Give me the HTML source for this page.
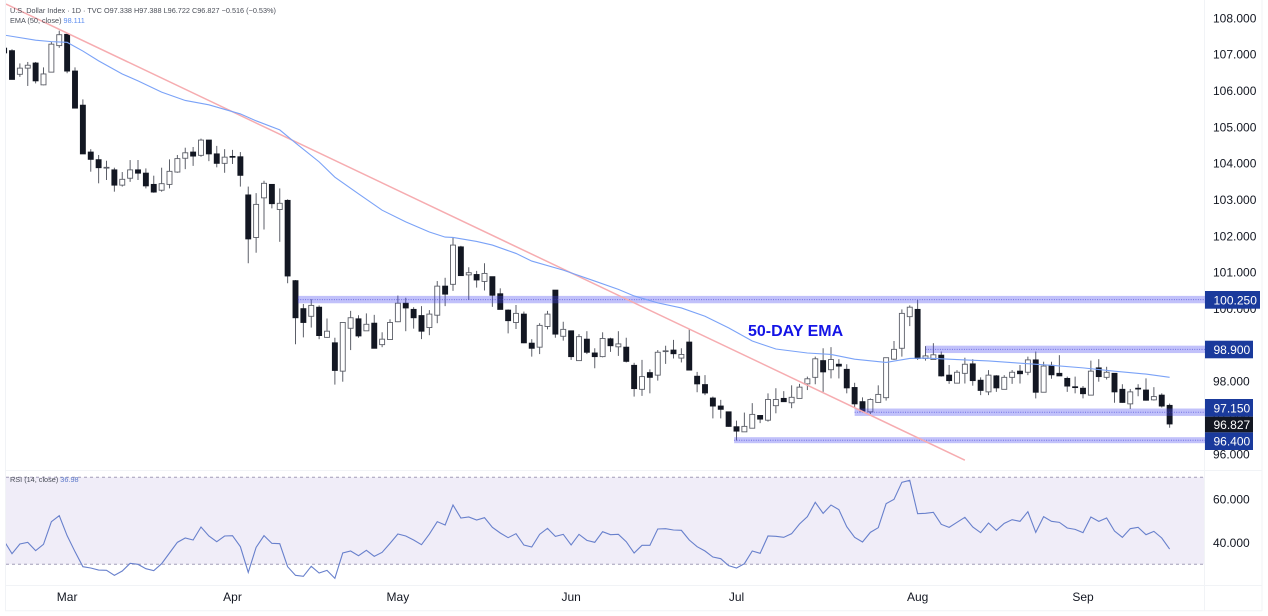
<!DOCTYPE html>
<html lang="en">
<head>
<meta charset="utf-8">
<title>U.S. Dollar Index Daily Chart</title>
<style>
html,body{margin:0;padding:0;background:#fff;width:1268px;height:616px;overflow:hidden}
svg{display:block;font-family:"Liberation Sans",sans-serif;filter:blur(0.35px)}
</style>
</head>
<body>
<svg id="chart" xmlns="http://www.w3.org/2000/svg" width="1268" height="616" viewBox="0 0 1268 616">
  <defs>
    <clipPath id="price-clip"><rect x="6" y="0" width="1199" height="470"></rect></clipPath>
    <clipPath id="rsi-clip"><rect x="6" y="471" width="1199" height="114"></rect></clipPath>
  </defs>
  <rect x="0" y="0" width="1268" height="616" fill="#ffffff"></rect>
  <rect x="6" y="477.3" width="1199" height="87" fill="#f0edf8"></rect>
  <line x1="6" x2="1205" y1="477.3" y2="477.3" stroke="#a29db8" stroke-width="1" stroke-dasharray="3 3"></line>
  <line x1="6" x2="1205" y1="564.3" y2="564.3" stroke="#a29db8" stroke-width="1" stroke-dasharray="3 3"></line>
  <g stroke="#f1f3f6" stroke-width="1" fill="none">
    <line x1="5.5" x2="5.5" y1="0" y2="611"></line>
    <line x1="1204.5" x2="1204.5" y1="0" y2="611"></line>
    <line x1="1262" x2="1262" y1="0" y2="611"></line>
    <line x1="5" x2="1262" y1="470.5" y2="470.5"></line>
    <line x1="5" x2="1262" y1="585.5" y2="585.5"></line>
    <line x1="5" x2="1262" y1="610.7" y2="610.7"></line>
  </g>
  <g id="candles" clip-path="url(#price-clip)"></g>
  <g id="levels"></g>
  <polyline id="trendline" fill="none" stroke="#f6acb0" stroke-width="1.5" clip-path="url(#price-clip)"></polyline>
  <polyline id="ema-line" fill="none" stroke="#7aa2f7" stroke-width="1.1" clip-path="url(#price-clip)"></polyline>
  <polyline id="rsi-line" fill="none" stroke="#6880cc" stroke-width="1.1" clip-path="url(#rsi-clip)"></polyline>
  <g id="price-axis"></g>
  <g id="rsi-axis"></g>
  <g id="time-axis"></g>
  <g id="level-labels"></g>
  <text x="748" y="336" font-size="16" font-weight="700" fill="#1414e6">50-DAY EMA</text>
  <text x="10" y="13" font-size="7.3" fill="#4a4e58">U.S. Dollar Index · 1D · TVC  O97.338  H97.388  L96.722  C96.827  −0.516 (−0.53%)</text>
  <text x="10" y="23" font-size="7.3" fill="#4a4e58">EMA (50, close) <tspan fill="#5b8cf0">98.111</tspan></text>
  <text x="10" y="482" font-size="7.3" fill="#4a4e58">RSI (14, close) <tspan fill="#5b78c9">36.98</tspan></text>
</svg>
<script>
const opens=[107.17,107.10,106.45,106.62,106.76,106.16,106.51,107.24,107.55,106.54,105.60,104.31,104.10,103.88,103.82,103.40,103.59,103.82,103.73,103.42,103.26,103.42,103.76,104.14,104.31,104.22,104.64,104.26,104.00,104.19,104.18,103.13,101.96,103.05,103.42,102.73,102.98,100.77,100.00,99.79,100.04,99.21,99.06,98.28,99.46,99.72,99.39,99.60,99.01,99.15,99.64,100.15,99.98,99.81,99.48,99.82,100.62,100.67,101.70,100.93,100.94,100.75,100.88,100.41,99.96,99.62,99.85,99.05,98.94,99.51,100.51,99.24,99.39,98.57,99.16,98.78,98.68,99.17,98.95,98.94,98.44,97.78,98.24,98.17,98.83,98.86,98.64,99.08,98.14,97.91,97.54,97.32,97.16,96.75,96.61,96.71,97.06,96.93,97.33,97.53,97.41,97.53,97.93,98.11,98.57,98.32,98.47,98.33,97.83,97.44,97.16,97.42,97.55,98.61,98.91,99.78,99.98,98.63,98.60,98.72,98.17,97.95,98.22,98.48,98.03,97.71,98.15,97.78,98.11,98.28,98.25,98.59,97.70,98.44,98.22,98.08,97.85,97.81,97.62,98.37,98.11,98.22,97.78,97.38,97.81,97.76,97.49,97.62,97.338];
const highs=[107.17,107.14,106.75,106.79,106.79,106.64,107.35,107.65,107.59,106.64,105.76,104.39,104.23,104.07,103.88,103.76,104.09,104.09,103.86,103.66,103.88,104.11,104.23,104.43,104.45,104.68,104.64,104.48,104.39,104.37,104.31,103.36,103.18,103.52,103.42,103.31,103.01,100.79,100.13,100.26,100.09,99.73,99.20,99.62,99.94,99.82,99.87,99.83,99.35,99.71,100.36,100.30,100.04,100.07,99.96,100.76,100.85,101.96,101.73,101.14,101.04,101.25,100.88,100.56,99.98,100.10,99.92,99.16,99.60,99.94,100.51,99.64,99.39,99.30,99.38,98.91,99.35,99.20,99.38,99.20,98.51,98.59,98.33,98.86,98.98,99.14,98.91,99.43,98.26,98.17,97.58,97.49,97.16,96.92,97.14,97.40,97.06,97.67,97.81,97.73,97.89,97.93,98.13,98.68,98.91,98.94,98.61,98.47,97.96,97.56,97.53,97.89,98.65,99.11,99.98,100.09,100.24,98.97,99.05,98.82,98.45,98.31,98.65,98.61,98.11,98.31,98.17,98.17,98.31,98.45,98.68,98.82,98.54,98.54,98.72,98.13,98.13,97.87,98.57,98.61,98.40,98.22,97.92,97.79,97.92,98.08,97.84,97.67,97.388];
const lows=[107.04,106.31,106.38,106.13,106.20,106.15,106.50,107.18,106.48,105.51,104.26,103.77,103.45,103.54,103.22,103.36,103.49,103.54,103.31,103.19,103.22,103.31,103.74,103.84,103.93,104.18,104.06,103.89,103.74,103.98,103.36,101.25,101.54,102.18,102.76,101.84,100.70,99.02,99.21,99.48,99.16,99.20,97.91,97.99,98.86,99.20,99.39,98.91,98.94,99.15,99.63,99.38,99.45,99.16,99.27,99.60,100.07,100.49,100.90,100.24,100.58,100.50,100.05,99.98,99.32,99.44,99.05,98.68,98.75,99.43,99.20,99.12,98.59,98.56,98.75,98.36,98.66,98.81,98.70,98.52,97.58,97.60,97.67,98.02,98.48,98.63,98.52,98.31,97.70,97.62,96.98,96.98,96.75,96.37,96.61,96.71,96.85,96.89,97.12,97.44,97.26,97.53,97.76,97.92,97.71,98.08,98.08,97.67,97.26,97.16,97.10,97.42,97.47,98.59,98.68,99.52,98.59,98.57,98.60,98.13,97.93,97.94,97.94,97.88,97.62,97.62,97.71,97.78,97.93,97.94,98.17,97.53,97.70,98.07,98.15,97.71,97.67,97.53,97.61,97.99,98.05,97.41,97.41,97.24,97.59,97.47,97.47,97.28,96.722];
const closes=[107.04,106.31,106.62,106.70,106.27,106.46,107.28,107.54,106.54,105.52,104.26,104.11,103.88,103.89,103.40,103.56,103.82,103.73,103.38,103.21,103.44,103.78,104.13,104.29,104.20,104.64,104.26,104.00,104.17,104.17,103.67,101.92,102.87,103.45,102.89,102.90,100.90,99.75,99.62,100.09,99.26,99.38,98.30,99.62,99.75,99.25,99.57,98.91,99.16,99.62,100.15,100.02,99.75,99.38,99.85,100.62,100.40,101.75,100.91,100.99,100.79,100.97,100.37,99.98,99.67,99.87,99.06,98.91,99.54,99.85,99.30,99.43,98.68,99.23,98.80,98.68,99.18,98.98,99.03,98.55,97.80,98.13,98.11,98.80,98.84,98.76,98.74,98.31,97.93,97.68,97.32,97.23,96.76,96.63,96.76,97.09,96.96,97.50,97.50,97.44,97.56,97.84,98.07,98.62,98.26,98.60,98.42,97.82,97.38,97.18,97.50,97.64,98.65,98.88,99.87,100.04,98.63,98.70,98.73,98.15,98.02,98.25,98.47,98.02,97.75,98.17,97.82,98.11,98.25,98.21,98.59,97.70,98.42,98.18,98.15,97.87,97.84,97.66,98.28,98.13,98.25,97.71,97.42,97.71,97.79,97.48,97.58,97.32,96.827];

const emaBars=[0,4,6,8,10,12,15,17,20,23,26,30,32,35,37,40,42,45,48,51,54,56,57,60,62,65,67,71,75,78,80,83,86,89,92,95,98,102,105,108,112,115,117,121,125,129,133,137,141,145,148];
const emaValues=[107.53,107.39,107.35,107.33,107.09,106.82,106.46,106.27,105.96,105.73,105.61,105.36,105.17,104.92,104.56,104.04,103.62,103.16,102.71,102.39,102.11,101.97,101.96,101.85,101.75,101.52,101.31,101.06,100.76,100.53,100.35,100.16,100.02,99.79,99.47,99.11,98.89,98.78,98.74,98.61,98.52,98.63,98.64,98.60,98.56,98.50,98.44,98.37,98.28,98.20,98.111];

const rsiValues=[40.71,34.89,39.33,40.10,36.26,39.18,49.60,52.36,43.17,35.80,28.90,28.29,27.37,27.22,24.92,26.91,30.44,29.98,27.98,27.07,30.28,35.19,40.10,42.09,41.17,47.15,43.01,40.40,43.01,43.17,38.10,26.30,37.80,43.17,39.63,39.48,28.90,24.92,24.46,29.06,25.99,27.22,23.54,35.19,36.11,33.96,36.42,33.66,35.50,39.63,43.92,43.01,41.17,39.02,43.92,49.60,48.07,57.26,51.29,51.75,50.37,51.44,46.99,44.39,42.24,44.08,38.87,37.95,43.77,46.53,42.85,43.77,38.87,43.77,41.01,40.10,45.00,43.62,43.77,40.40,35.19,38.71,38.71,46.23,46.38,45.77,45.61,41.17,38.10,36.11,33.35,32.58,29.36,28.29,30.28,36.11,35.04,43.01,42.85,42.39,44.08,48.53,51.90,58.49,53.43,57.26,55.12,47.30,42.39,40.25,44.69,46.84,57.88,59.87,67.69,68.61,53.28,53.43,53.89,48.37,46.99,49.29,51.59,47.15,44.54,48.99,45.61,48.83,50.52,49.75,54.20,44.69,51.90,49.75,49.29,46.69,46.07,44.54,51.75,49.75,51.29,45.31,42.39,46.38,46.99,43.62,45.15,42.09,36.98];

const trendBars=[0.24,122];
const trendPrices=[108.385,95.83];

const priceTicks=[108,107,106,105,104,103,102,101,100,99,98,97,96];
const priceTickLabels=["108.000","107.000","106.000","105.000","104.000","103.000","102.000","101.000","100.000","99.000","98.000","97.000","96.000"];
const rsiTicks=[60,40];
const rsiTickLabels=["60.000","40.000"];
const monthLabels=["Mar","Apr","May","Jun","Jul","Aug","Sep"];
const monthBars=[8,29,50,72,93,116,137];

const levelPrices=[100.25,98.88,97.15,96.38];
const levelLabels=["100.250","98.900","97.150","96.400"];
const levelStartBars=[37.3,117,108,92.7];
const lastPrice=96.827;

const NS="http://www.w3.org/2000/svg";
const xOf=b=>4.125+7.875*b;
const yOf=p=>18+(108-p)*36.333;
const rsiY=r=>477.3+(70-r)*2.175;

function mk(tag,attrs,parent){
  const el=document.createElementNS(NS,tag);
  for(const k in attrs)el.setAttribute(k,attrs[k]);
  parent.appendChild(el);
  return el;
}

const candleGroup=document.getElementById('candles');
opens.forEach((o,i)=>{
  const c=closes[i],x=xOf(i),bull=c>=o;
  const g=mk('g',{},candleGroup);
  
  
  mk('line',{x1:x,x2:x,y1:yOf(highs[i]),y2:yOf(lows[i]),stroke:'#5c5f68','stroke-width':1},g);
  const top=yOf(Math.max(o,c)),bot=yOf(Math.min(o,c));
  mk('rect',{x:x-2.5,y:top,width:5,height:Math.max(bot-top,0.8),fill:bull?'#ffffff':'#131722',stroke:bull?'#5c5f68':'#131722','stroke-width':0.9},g);
});

const levelGroup=document.getElementById('levels');
levelPrices.forEach((p,i)=>{
  const y=yOf(p),x=xOf(levelStartBars[i]);
  const end=i===2?1209:1205;
  const h=i===3?6:7.4;
  const band=mk('rect',{x:x,y:y-h/2,width:end-x,height:h,fill:'#4a4af0','fill-opacity':0.34},levelGroup);
  
  
  const dots=mk('line',{x1:x,x2:end,y1:y,y2:y,stroke:'#3a3ad0','stroke-width':1,'stroke-dasharray':'1 1.4','stroke-opacity':0.6},levelGroup);
  
  
});

document.getElementById('trendline').setAttribute('points',trendBars.map((b,i)=>xOf(b)+','+yOf(trendPrices[i])).join(' '));
document.getElementById('ema-line').setAttribute('points',emaBars.map((b,i)=>xOf(b)+','+yOf(emaValues[i])).join(' '));
document.getElementById('rsi-line').setAttribute('points',rsiValues.map((r,i)=>xOf(i)+','+rsiY(r)).join(' '));

const priceAxis=document.getElementById('price-axis');
priceTicks.forEach((p,i)=>{
  const t=mk('text',{x:1213,y:yOf(p)+4.3,'font-size':12,fill:'#131722'},priceAxis);
  
  
  t.textContent=priceTickLabels[i];
});

const rsiAxis=document.getElementById('rsi-axis');
rsiTicks.forEach((r,i)=>{
  const t=mk('text',{x:1213,y:rsiY(r)+4.3,'font-size':12,fill:'#131722'},rsiAxis);
  
  
  t.textContent=rsiTickLabels[i];
});

const timeAxis=document.getElementById('time-axis');
monthLabels.forEach((m,i)=>{
  const t=mk('text',{x:xOf(monthBars[i]),y:601,'font-size':12,'text-anchor':'middle',fill:'#131722'},timeAxis);
  
  
  t.textContent=m;
});

const labelGroup=document.getElementById('level-labels');
function priceBox(text,top,h,w,fill,name){
  const box=mk('rect',{x:1205,y:top,width:w,height:h,fill:fill},labelGroup);
  
  
  const t=mk('text',{x:1213.5,y:top+h/2+4.5,'font-size':12,'font-weight':500,fill:'#ffffff'},labelGroup);
  
  
  t.textContent=text;
}
priceBox(levelLabels[0],291,17.7,55,'#1a3a9c','level-100-25-label');
priceBox(levelLabels[1],340.7,17.6,48,'#1a3a9c','level-98-9-label');
priceBox(levelLabels[2],399,17.7,48,'#1a3a9c','level-97-15-label');
priceBox(levelLabels[3],432.3,17.7,48,'#1a3a9c','level-96-4-label');
priceBox(lastPrice.toFixed(3),416.7,15.6,48,'#131722','last-price-label');
</script>
</body>
</html>
